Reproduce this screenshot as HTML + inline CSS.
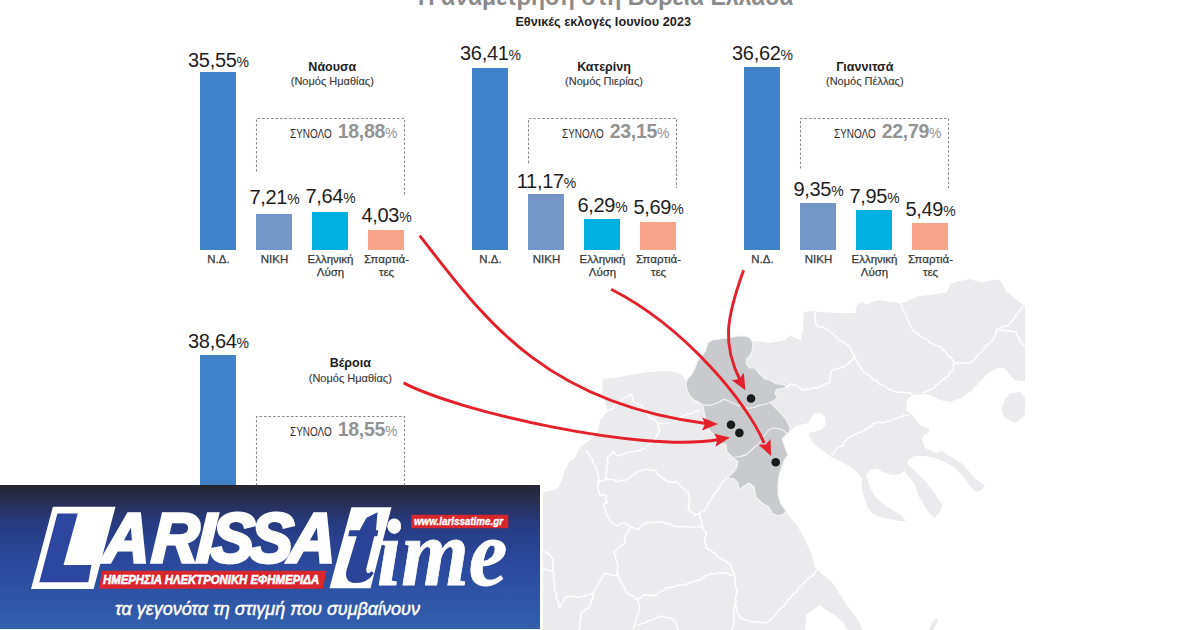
<!DOCTYPE html>
<html><head><meta charset="utf-8"><style>
*{margin:0;padding:0;box-sizing:border-box}
html,body{width:1200px;height:630px;overflow:hidden;background:#fff}
body{position:relative;font-family:"Liberation Sans",sans-serif;color:#222}
.map{position:absolute;left:0;top:0}
.bar{position:absolute;width:36px}
.banner{position:absolute;left:0;top:485px;width:540px;height:143.8px;background:linear-gradient(180deg,#25262f 0%,#282d4c 9%,#283a80 26%,#2b4a9d 55%,#3160ad 100%);overflow:hidden}
</style></head>
<body>
<svg class="map" width="1200" height="630" viewBox="0 0 1200 630"><polygon points="538,500 540,494 545,492 553,490 558,488 562,480 565,470 569,462 575,458 580,447 590,440 598,432 600,420 607,412 606,405 602,395 603,379 620,377 635,374 650,372 665,371 675,372 682,375 686,380 688,378 692,374 695,368 697,362 700,358 705,352 708,343 712,340 720,339 728,338 738,336 745,336 750,338 753,341 755,341 770,343 785,340 790,335 795,338 801,340 803,330 804,312 810,311 820,312 840,313 855,313 857,305 862,302 866,305 872,302 880,300 890,302 900,303 905,302 912,299 918,296.2 930,295 940,293.5 946.7,292.6 948.5,288 950.2,284.3 956.2,281.9 963,280.5 970.5,279 976,281 982.4,281.9 990,280.5 999,279.5 1003,285 1006.2,291.4 1012,296 1018,301 1025,305.7 1025,381 1015,380 1010,375 1005,368 998,368 990,372 983,378 977,385 970,392 960,398 950,402 940,400 930,395 920,394 912,395 907,400 906,410 910,413 915,418 920,425 928,428 930,431 924,435 922,440 925,448 935,453 942,451 948,455 960,462 968,470 975,479 985,485 982,490 975,492 970,486 963,476 955,468 945,462 935,458 925,456 915,456 909,459 907,463 914,470 924,480 934,492 942,505 940,512 935,518 930,514 924,505 918,495 915,485 909,477 905,471 900,474 893,475 885,473 877,469 870,470 866,475 869,485 874,495 882,503 892,510 901,515 906,521 900,521 890,519 880,517 873,514 868,508 865,500 862,490 862,479 856,471 850,466.4 841,461.7 831.4,456.9 824.3,452.1 818.3,447.4 812.4,441.4 808.8,435.5 810,432.5 816,431.3 822.5,429.5 825.5,424.8 824.9,417 820.7,412.9 814.8,413.5 811.2,417.6 808.8,423 802.9,424.2 796.9,425.4 792.1,429.5 787.4,434.3 782,439 785,447 788,455 785,459 782,466 779,476 778,484 778,494 781,504 786,511 790,518 797,525 805,540 812,555 815,567 822,574 832,582 840,595 847,605 853,613 858,620 863,630 848,630 843,622 835,615 826,610 820,605 815,608 806,615 805,630 538,630" fill="#ebebed"/><polygon points="1001,410 1005,400 1010,393 1020,392 1025,398 1025,415 1015,423 1005,418" fill="#ebebed"/><polygon points="929,630 932,623 936,618.5 938.5,619.5 935.5,625.5 933.5,630" fill="#ebebed"/><polygon points="708,343 712,340 720,339 728,338 738,336 745,336 750,338 753,343 752,352 749,357 746,360 747,365 750,368 755,368 758,372 764.5,378.8 769.3,379.8 776,383.6 783.6,384.5 787.4,386.4 782.6,388.3 776.9,389.3 775,393.1 777.9,397.9 774,400.7 770.2,402.6 774,406.4 778.8,411.2 782.6,415 785.5,418.8 788.3,423.6 790.2,428.3 789.3,432.1 785,436 782,439 785,447 788,455 785,459 782,466 779,476 778,484 778,494 781,504 786,511 784,514 778,516 772,513 769,507 762,503 756,497 754,487 749,483 744,486 739,490 738,483 734,479 727,477 732,474 736,469 738,462 733,458 727,452 726,444 722,444 716,437 709,430 705,417 703,406 700,403 694,400 690,396 687,390 686,383 688,378 692,374 695,368 697,362 700,358 705,352" fill="#c9cacd" stroke="#f6f6f7" stroke-width="1.1" stroke-linejoin="round"/><polyline points="586.0,450.0 587.74,452.35 589.48,454.71 590.29,457.62 592.63,459.74 592.95,462.42 594.2,464.72 595.65,466.93 595.99,469.6 597.73,471.85 597.6,474.48 598.67,476.87 599.14,479.37 599.11,482.04 597.51,484.31 597.55,486.76 598.41,489.16 598.81,491.75 599.77,494.68 602.96,495.12 606.16,495.97 605.75,499.13 607.51,502.51 604.59,503.59 603.31,505.87 604.52,508.11 605.56,510.43 606.27,512.86 606.88,515.89 609.12,518.1 609.92,521.11 612.2,522.85 614.79,524.17 617.03,526.07 619.42,524.35 622.09,523.34 625.26,522.61 626.84,524.57 629.06,525.57 631.24,527.17 629.22,529.25 627.73,531.71 626.31,534.06 625.04,536.41 624.69,538.94 624.9,541.58 623.93,543.91 621.97,545.57 619.63,546.73 617.77,548.51 616.21,550.66 613.26,552.22 615.34,554.32 615.63,556.96 615.86,559.62 617.56,561.96 617.22,564.6 618.14,567.14 617.33,569.82 617.38,572.43 617.9,575.05 618.59,577.52 620.52,579.37 621.1,581.89 622.36,584.07 623.51,586.31 624.81,588.47 625.39,590.99 626.65,593.62 629.12,594.16 631.07,595.63 633.65,595.99 635.24,598.08 637.62,599.2 640.08,598.34 642.1,596.77 644.03,594.66 646.77,595.07 649.48,595.77 652.32,594.99 654.97,595.95 656.9,594.06 659.05,592.49 661.2,590.92 664.04,590.35 665.87,587.92 668.41,587.52 670.96,587.16 673.64,587.33 675.85,585.51 678.48,585.5 681.02,585.08 683.66,584.93 686.13,584.16 688.65,583.56 690.91,581.99 693.47,581.54 695.9,580.8 698.76,580.39 701.31,579.33 703.26,576.99 705.78,575.86 708.32,574.78 710.97,573.57 713.5,573.81 716.01,573.81 718.47,573.12 720.95,572.54 723.49,573.04 726.07,572.8 728.3,573.93 730.42,575.35 733,575.5" fill="none" stroke="#fff" stroke-width="1.4" stroke-linejoin="round"/><polyline points="597.0,482.0 599.86,480.59 603.23,480.7 606.11,478.41 608.69,479.82 611.62,479.35 614.32,480.1 617.09,481.79 619.95,480.2 623.03,480.56 625.96,479.95 627.96,478.54 630.0,477.19 631.72,475.4 634.3,474.83 635.78,472.38 638.6,471.6 641.24,470.28 644.12,469.65 647.04,468.86 649.51,470.29 652.38,470.15 655.44,470.56 657.02,472.48 657.94,475.06 660.74,475.76 661.9,478.17 664.43,479.16 666.54,480.89 669.0,481.74 672.0,482.31 675.0,482.0 677.8,482.13 678.8,484.36 680.56,486.07 682.32,487.52 684.39,488.75 685.6,491.26 688.02,492.0 688.98,494.4 688.3,497.14 689.38,499.52 689.65,501.9 688.75,504.17 689.0,506.76 688.15,508.83 689.94,511.46 693.05,512.56 695.16,515.39 699,513.4" fill="none" stroke="#fff" stroke-width="1.4" stroke-linejoin="round"/><polyline points="606.0,479.0 606.14,476.6 606.2,474.18 606.02,471.75 607.38,469.45 606.21,466.92 607.25,464.5 608.13,462.06 607.08,459.43 608.06,457.06 610.63,454.63 613.5,451.46 615.13,453.71 617.08,456.02 619.58,454.99 622.29,454.77 624.67,453.25 627.3,452.73 629.84,451.9 632.4,451.89 634.97,451.92 637.24,450.78 639.71,450.44 641.9,449.24 644.87,448.14 647.01,445.65 649.75,444.38 651.96,442.81 653.77,440.89 655.16,438.59 656.4,436.42 658.16,433.34 659.57,430.46 658.67,427.79 658.46,424.86 656.7,422.78 655.39,420.32 653.38,418.73 650.56,418.16 648.84,416.12 647.24,413.63 644.89,411.7 643.65,408.95 642.33,405.94 639.01,405.43 636.75,403.17 633.46,401.97 632.78,399.01 631.9,396.15 630.24,394.21 627.74,396.07 625.01,397.57 621.95,398.56 620.72,400.99 618.81,402.77 616.5,404.15 614.19,405.53 612.92,407.94 611.03,409.86 607.95,410.13 605,411" fill="none" stroke="#fff" stroke-width="1.4" stroke-linejoin="round"/><polyline points="657.0,422.4 659.97,423.31 662.98,423.89 666.02,423.59 668.92,422.47 672.24,422.84 674.92,421.39 677.45,419.68 679.76,417.51 682.68,416.7 685.21,415.09 687.87,413.62 690.63,413.89 693.05,413.15 694.97,410.91 697.78,411.35 700,410" fill="none" stroke="#fff" stroke-width="1.4" stroke-linejoin="round"/><polyline points="631.0,527.0 633.35,527.59 635.64,528.43 638.44,529.52 640.3,526.96 642.67,525.01 645.02,523.14 647.94,522.17 651.0,522.35 653.98,522.21 656.36,522.67 658.85,521.75 661.23,522.29 663.65,522.15 665.86,523.48 668.25,523.96 670.87,523.63 672.79,525.74 675.13,526.38 677.6,526.57 679.99,527.18 683.52,526.6 687.0,526.52 689.62,527.35 692.25,526.6 694.88,526.8 697.5,526.89 700.1,526.55 702.7,527.3" fill="none" stroke="#fff" stroke-width="1.4" stroke-linejoin="round"/><polyline points="727.0,477.6 725.28,479.58 723.31,481.33 721.55,483.27 720.49,485.69 719.43,487.94 717.67,489.8 716.56,492.03 714.6,493.71 713.09,496.16 711.53,498.57 709.92,500.95 708.4,503.12 707.73,505.8 705.96,507.8 704.78,510.46 701.41,511.15 699.68,513.2 699.51,516.99 701.66,520.14 701.28,522.7 702.39,524.91 702.84,527.23 703.3,529.87 705.6,531.64 706.69,534.45 704.6,537.66 704.49,541.31 706.26,544.07 706.3,547.9 708.2,549.4 710.91,549.94 712.45,551.88 714.6,553.08 716.28,554.86 717.82,556.79 720.08,557.74 721.82,559.77 724.53,560.18 726.61,561.65 728.26,563.83 730.85,564.65 731.68,567.26 732.27,569.95 733.32,572.49 734.32,575.04 735.74,577.59 735.04,580.36 735.06,583.01 735.45,585.62 736.34,588.14 737.23,590.73 736.82,593.33 735.9,595.85 735.53,598.46 736.01,601.19 735.41,603.58 736.01,606.24 736.58,608.91 736.93,611.65 738.2,614.1 739.33,616.02 741.03,618.24 743.55,618.75 745.74,619.95 748.05,620.56 750.45,621.16 752.9,621.37 755.26,622.26 757.82,621.47 760.18,622.45 762.68,622.14 765.03,623.24 766.98,622.68 769.41,620.78 771.66,618.69 774.17,616.84 775.02,614.38 777.09,612.94 778.36,610.83 780.02,609.05 781.83,607.39 783.99,606.03 784.98,603.68 787.22,602.28 787.93,599.55 790.5,598.46 791.51,596.02 792.97,594.0 795.29,592.77 797.15,591.11 797.75,588.3 799.75,586.72 802.29,585.52 803.83,583.21 805.72,581.29 807.47,579.22 809.42,577.55 811.9,575.87 814.11,573.98 815.88,571.74 817,569" fill="none" stroke="#fff" stroke-width="1.4" stroke-linejoin="round"/><polyline points="735.0,603.7 735.13,606.4 734.2,609.0 733.96,611.66 733.44,614.3 734.25,617.06 733.93,619.72 733.81,622.39 733.43,625.09 732.13,627.43 732,630" fill="none" stroke="#fff" stroke-width="1.4" stroke-linejoin="round"/><polyline points="542.0,569.0 544.86,568.88 547.44,570.32 550.21,570.74 552.3,571.07 553.61,573.43 553.89,575.89 553.38,578.43 553.75,580.88 554.56,583.28 554.21,585.8 554.91,588.22 554.57,590.81 556.23,593.02 556.71,595.53 556.31,598.28 557.79,600.53 558.59,602.96 558.39,605.65 559.68,608.11 560.32,605.51 562.17,603.64 563.63,601.53 564.24,598.93 566.0,597.24 568.6,596.4 571.2,596.74 573.8,596.33 576.4,596.53 579.21,597.74 581.46,596.15 584.21,596.36 586.47,594.81 589.05,594.37 591.66,594.07 594.27,592.94 594.56,590.35 596.36,588.53 597.54,586.4 598.01,583.9 599.01,581.67 601.2,580.13 602.15,577.65 603.16,575.2 605.02,573.23 608.01,573.6 610.68,575.23 613.7,575.5 618,575.5" fill="none" stroke="#fff" stroke-width="1.4" stroke-linejoin="round"/><polyline points="594.0,592.8 592.49,595.18 593.15,598.23 591.24,600.49 591.32,603.36 589.46,605.24 588.74,608.1 585.98,608.84 584.4,610.81 582.4,612.35 580.21,614.4 581.08,617.14 580.59,619.7 579.67,622.21 580.01,624.88 579.71,627.47 579,630" fill="none" stroke="#fff" stroke-width="1.4" stroke-linejoin="round"/><polyline points="637.5,599.0 638.45,601.95 639.0,604.99 639.83,608.04 638.9,610.63 638.08,613.25 636.82,615.72 636.55,618.52 635.09,620.95 635.29,624.19 634.07,627.08 633,630" fill="none" stroke="#fff" stroke-width="1.4" stroke-linejoin="round"/><polyline points="637.5,625.0 640.14,624.03 642.92,623.46 645.64,622.69 647.88,620.69 650.91,620.32 653.62,619.15 656.34,618.02 659.06,616.08 661.83,616.22 664.52,617.07 667.21,617.92 670.25,617.5 672.17,619.6 674.52,621.18 675.97,623.37 676.92,626.82 678.7,630" fill="none" stroke="#fff" stroke-width="1.4" stroke-linejoin="round"/><polyline points="542.0,551.7 545.11,551.85 547.79,553.15 549.88,555.18 551.73,557.39 553.02,560.0 553.01,562.75 553.03,565.5 553.07,568.25 553,571" fill="none" stroke="#fff" stroke-width="1.4" stroke-linejoin="round"/><polyline points="815.0,312.0 814.92,314.62 814.95,317.23 815.57,319.8 815.78,322.4 816.07,324.84 818.09,326.73 820.93,326.69 823.42,327.48 825.75,328.65 828.26,329.72 830.02,331.46 831.92,333.06 833.92,334.54 835.52,336.46 837.37,338.11 838.94,340.09 841.46,341.0 843.77,342.22 845.86,343.8 847.76,345.66 850.16,346.92 851.0,349.83 852.23,352.55 854.13,355.03 854.13,357.63 852.79,359.7 850.56,361.27 848.7,363.33 846.25,364.6 844.39,366.66 841.83,367.36 839.11,368.23 836.38,369.05 833.56,369.55 831.43,371.04 830.68,373.74 830.13,376.47 829.77,379.21 830.07,382.16 827.82,383.53 825.12,383.81 823.04,385.58 820.27,385.7 818.15,387.78 815.35,387.57 812.67,388.03 810.11,389.1 807.34,389.03 804.67,389.5 801.89,390.18 800.14,388.07 797.91,386.71 795.74,385.27 792.98,384.74 791.54,383.54 788.64,385.64 786,388" fill="none" stroke="#fff" stroke-width="1.4" stroke-linejoin="round"/><polyline points="854.0,355.0 854.6,357.47 856.07,359.47 857.12,361.7 858.1,363.97 860.17,365.65 860.85,368.15 862.54,370.46 864.58,372.42 866.92,374.08 869.31,375.57 871.28,377.49 872.94,379.84 875.97,380.29 877.97,382.17 879.66,384.63 882.21,385.1 884.55,385.92 886.64,387.24 888.36,389.24 890.96,389.6 893.02,390.89 895.34,391.58 897.67,392.23 900.13,392.11 902.6,391.84 904.86,392.99 907.37,392.52 909.73,392.98 912,394" fill="none" stroke="#fff" stroke-width="1.4" stroke-linejoin="round"/><polyline points="900.0,303.0 901.65,305.09 902.06,307.8 903.31,310.1 904.7,312.32 906.24,314.46 906.56,317.17 907.54,319.78 908.98,322.21 909.99,324.8 911.39,327.25 912.47,329.36 914.32,331.43 916.32,333.31 919.01,334.24 920.52,336.78 923.21,337.62 925.4,338.82 927.75,339.76 929.22,342.3 931.62,343.14 933.68,344.51 936.57,345.82 939.73,346.7 942.19,348.81 944.0,351.0 946.43,352.57 947.49,355.51 950.16,356.87 952.09,358.65 952.94,361.33 955.0,362.4 957.8,363.68 960.6,362.93 963.4,363.08 966.2,362.75 969,363" fill="none" stroke="#fff" stroke-width="1.4" stroke-linejoin="round"/><polyline points="955.0,363.0 953.31,365.41 953.54,368.54 952.54,371.54 949.44,372.44 948.36,375.36 946.43,377.43 943.84,378.82 942.3,380.76 939.88,381.67 938.71,384.04 936.1,384.72 934.9,387.08 932.75,388.31 930.76,389.35 928.23,390.72 925.43,391.37 923,393" fill="none" stroke="#fff" stroke-width="1.4" stroke-linejoin="round"/><polyline points="969.0,363.0 971.44,361.86 973.46,360.22 975.43,358.46 977.04,355.16 980.11,353.4 981.66,351.39 983.53,349.68 984.82,347.42 986.66,345.64 988.76,344.19 990.34,342.18 992.43,340.7 993.56,338.81 994.26,336.46 995.83,334.33 995.98,331.84 996.71,329.52 999.22,328.91 1001.38,327.41 1003.58,326.02 1006.39,326.16 1008.71,324.89 1010.38,322.97 1011.92,320.95 1013.94,319.32 1014.76,316.73 1016.84,315.14 1017.93,312.78 1019.8,310.56 1021.51,308.24 1022.9,305.7" fill="none" stroke="#fff" stroke-width="1.4" stroke-linejoin="round"/><polyline points="996.7,329.5 999.43,330.17 1002.17,330.71 1005.07,330.0 1007.57,331.64 1010.41,330.71 1012.99,331.82 1016.28,331.61 1016.53,334.46 1018.6,336.4 1019.01,339.17 1020.24,341.65 1022.44,344.09 1025,346.2" fill="none" stroke="#fff" stroke-width="1.4" stroke-linejoin="round"/><polyline points="832.0,456.0 833.16,453.25 835.28,450.97 836.17,448.52 838.86,446.57 842.49,446.33 843.52,444.12 844.06,441.59 846.38,440.61 848.46,438.0 851.17,436.4 853.95,434.89 856.31,434.13 858.26,432.45 860.87,432.27 863.29,431.44 865.01,429.68 867.26,428.73 869.11,427.17 871.29,426.1 872.72,423.91 874.98,422.77 877.4,422.75 879.75,421.97 882.26,423.15 884.62,422.42 886.8,421.39 890.04,421.13 892.96,419.87 895.83,418.53 898.48,417.49 901.31,416.94 903.89,415.32 907.02,415.6 910,415" fill="none" stroke="#fff" stroke-width="1.4" stroke-linejoin="round"/><polyline points="692,401 695.8,402.9 701.7,404.6 708.3,405.4 714.2,404.2 720,401.7 724.2,399.2 728.3,400.8 733.3,403.3 739.2,405.8 744,407.5 749.2,408.3 754.2,407.5 758.3,405.5 764.2,404.5 770.2,402.6" fill="none" stroke="#f4f4f6" stroke-width="1.1" stroke-linejoin="round"/><polyline points="729.5,459.7 735.9,457.3 741.4,456.1 746.2,454.9 750.2,451 754.9,447 758.9,443.8 762,439 766,433.5 769.2,429.5 774,428 778.7,428.7 783.5,430.3 786.7,433.5" fill="none" stroke="#f4f4f6" stroke-width="1.1" stroke-linejoin="round"/><circle cx="751" cy="398.5" r="4.3" fill="#1a1a1a"/><circle cx="731" cy="424.7" r="4.3" fill="#1a1a1a"/><circle cx="739.4" cy="432.9" r="4.3" fill="#1a1a1a"/><circle cx="775.7" cy="462.2" r="4.3" fill="#1a1a1a"/><path d="M419.7,235.7 C480.5,313.0 540.0,402.5 706,423.5" fill="none" stroke="#e3202b" stroke-width="2.9" stroke-linecap="butt"/><polygon points="718,424 702.3,417.5 705.0,424.0 702,430.5" fill="#e3202b"/><path d="M611.1,289.3 C686.0,327.3 748.4,404.8 764,443" fill="none" stroke="#e3202b" stroke-width="2.9" stroke-linecap="butt"/><polygon points="771,456 758.6,444.8 765.7,444.4 770.5,439" fill="#e3202b"/><path d="M743.6,270.2 C725.9,319.0 722.3,344.4 740,380" fill="none" stroke="#e3202b" stroke-width="2.9" stroke-linecap="butt"/><polygon points="745.4,390.2 731.9,380.2 739.2,378.9 743.8,372.7" fill="#e3202b"/><path d="M403.6,382.9 C456.5,411.0 640.9,453.4 719,439.5" fill="none" stroke="#e3202b" stroke-width="2.9" stroke-linecap="butt"/><polygon points="730,437.5 714.2,433.8 717.5,439.8 715.4,446.7" fill="#e3202b"/></svg>
<div style="position:absolute;left:418.00px;top:-14.17px;width:420px;text-align:left;white-space:nowrap;font-family:'Liberation Sans',sans-serif;font-size:23px;line-height:23px;font-weight:bold;color:#8b8b8b;">Η αναμέτρηση στη Βόρεια Ελλάδα</div><div style="position:absolute;left:515.40px;top:15.55px;width:200px;text-align:left;white-space:nowrap;font-family:'Liberation Sans',sans-serif;font-size:12.7px;line-height:12.7px;font-weight:bold;color:#1e1e1e;">Εθνικές εκλογές Ιουνίου 2023</div>
<div class="bar" style="left:200px;top:72.25px;height:177.75px;background:#3f82c8"></div><div style="position:absolute;left:173.50px;top:49.77px;width:90px;text-align:center;white-space:nowrap;font-family:'Liberation Sans',sans-serif;font-size:20px;line-height:20px;color:#1e1e1e;letter-spacing:-0.3px;">35,55<span style="font-size:14px;letter-spacing:0">%</span></div><div style="position:absolute;left:183.50px;top:254.47px;width:70px;text-align:center;white-space:nowrap;font-family:'Liberation Sans',sans-serif;font-size:11.5px;line-height:11.5px;color:#3a3a3a;-webkit-text-stroke:0.25px #3a3a3a;">Ν.Δ.</div><div class="bar" style="left:256px;top:213.95px;height:36.05px;background:#7396c6"></div><div style="position:absolute;left:229.50px;top:187.07px;width:90px;text-align:center;white-space:nowrap;font-family:'Liberation Sans',sans-serif;font-size:20px;line-height:20px;color:#1e1e1e;letter-spacing:-0.3px;">7,21<span style="font-size:14px;letter-spacing:0">%</span></div><div style="position:absolute;left:239.50px;top:254.47px;width:70px;text-align:center;white-space:nowrap;font-family:'Liberation Sans',sans-serif;font-size:11.5px;line-height:11.5px;color:#3a3a3a;-webkit-text-stroke:0.25px #3a3a3a;">ΝΙΚΗ</div><div class="bar" style="left:312px;top:211.80px;height:38.20px;background:#00b0e0"></div><div style="position:absolute;left:285.50px;top:186.37px;width:90px;text-align:center;white-space:nowrap;font-family:'Liberation Sans',sans-serif;font-size:20px;line-height:20px;color:#1e1e1e;letter-spacing:-0.3px;">7,64<span style="font-size:14px;letter-spacing:0">%</span></div><div style="position:absolute;left:295.50px;top:254.47px;width:70px;text-align:center;white-space:nowrap;font-family:'Liberation Sans',sans-serif;font-size:11.5px;line-height:11.5px;color:#3a3a3a;-webkit-text-stroke:0.25px #3a3a3a;">Ελληνική</div><div style="position:absolute;left:295.50px;top:267.27px;width:70px;text-align:center;white-space:nowrap;font-family:'Liberation Sans',sans-serif;font-size:11.5px;line-height:11.5px;color:#3a3a3a;-webkit-text-stroke:0.25px #3a3a3a;">Λύση</div><div class="bar" style="left:368px;top:229.85px;height:20.15px;background:#f7a48a"></div><div style="position:absolute;left:341.50px;top:204.87px;width:90px;text-align:center;white-space:nowrap;font-family:'Liberation Sans',sans-serif;font-size:20px;line-height:20px;color:#1e1e1e;letter-spacing:-0.3px;">4,03<span style="font-size:14px;letter-spacing:0">%</span></div><div style="position:absolute;left:351.50px;top:254.47px;width:70px;text-align:center;white-space:nowrap;font-family:'Liberation Sans',sans-serif;font-size:11.5px;line-height:11.5px;color:#3a3a3a;-webkit-text-stroke:0.25px #3a3a3a;">Σπαρτιά-</div><div style="position:absolute;left:351.50px;top:267.27px;width:70px;text-align:center;white-space:nowrap;font-family:'Liberation Sans',sans-serif;font-size:11.5px;line-height:11.5px;color:#3a3a3a;-webkit-text-stroke:0.25px #3a3a3a;">τες</div><div style="position:absolute;left:262.30px;top:61.42px;width:140px;text-align:center;white-space:nowrap;font-family:'Liberation Sans',sans-serif;font-size:12.5px;line-height:12.5px;font-weight:bold;color:#1e1e1e;">Νάουσα</div><div style="position:absolute;left:262.30px;top:76.19px;width:140px;text-align:center;white-space:nowrap;font-family:'Liberation Sans',sans-serif;font-size:11px;line-height:11px;color:#3a3a3a;-webkit-text-stroke:0.15px #3a3a3a;">(Νομός Ημαθίας)</div><svg style="position:absolute;left:255px;top:117px;overflow:visible" width="152" height="79"><path d="M1.5,54.5 V1.5 H149.5 V77.4" fill="none" stroke="#8c8c8c" stroke-width="1.1" stroke-dasharray="2.6 1.9"/></svg><div style="position:absolute;left:290.00px;top:128.34px;width:60px;text-align:left;white-space:nowrap;font-family:'Liberation Sans',sans-serif;font-size:12px;line-height:12px;transform:scaleX(0.83);transform-origin:0 0;color:#2e2e2e;">ΣΥΝΟΛΟ</div><div style="position:absolute;left:307.50px;top:121.99px;width:90px;text-align:right;white-space:nowrap;font-family:'Liberation Sans',sans-serif;font-size:19.5px;line-height:19.5px;font-weight:bold;color:#939393;letter-spacing:-0.3px;">18,88<span style="font-size:14px;font-weight:normal;letter-spacing:0">%</span></div><div class="bar" style="left:472px;top:67.95px;height:182.05px;background:#3f82c8"></div><div style="position:absolute;left:445.50px;top:43.07px;width:90px;text-align:center;white-space:nowrap;font-family:'Liberation Sans',sans-serif;font-size:20px;line-height:20px;color:#1e1e1e;letter-spacing:-0.3px;">36,41<span style="font-size:14px;letter-spacing:0">%</span></div><div style="position:absolute;left:455.50px;top:254.47px;width:70px;text-align:center;white-space:nowrap;font-family:'Liberation Sans',sans-serif;font-size:11.5px;line-height:11.5px;color:#3a3a3a;-webkit-text-stroke:0.25px #3a3a3a;">Ν.Δ.</div><div class="bar" style="left:528px;top:194.15px;height:55.85px;background:#7396c6"></div><div style="position:absolute;left:501.50px;top:171.27px;width:90px;text-align:center;white-space:nowrap;font-family:'Liberation Sans',sans-serif;font-size:20px;line-height:20px;color:#1e1e1e;letter-spacing:-0.3px;">11,17<span style="font-size:14px;letter-spacing:0">%</span></div><div style="position:absolute;left:511.50px;top:254.47px;width:70px;text-align:center;white-space:nowrap;font-family:'Liberation Sans',sans-serif;font-size:11.5px;line-height:11.5px;color:#3a3a3a;-webkit-text-stroke:0.25px #3a3a3a;">ΝΙΚΗ</div><div class="bar" style="left:584px;top:218.55px;height:31.45px;background:#00b0e0"></div><div style="position:absolute;left:557.50px;top:195.27px;width:90px;text-align:center;white-space:nowrap;font-family:'Liberation Sans',sans-serif;font-size:20px;line-height:20px;color:#1e1e1e;letter-spacing:-0.3px;">6,29<span style="font-size:14px;letter-spacing:0">%</span></div><div style="position:absolute;left:567.50px;top:254.47px;width:70px;text-align:center;white-space:nowrap;font-family:'Liberation Sans',sans-serif;font-size:11.5px;line-height:11.5px;color:#3a3a3a;-webkit-text-stroke:0.25px #3a3a3a;">Ελληνική</div><div style="position:absolute;left:567.50px;top:267.27px;width:70px;text-align:center;white-space:nowrap;font-family:'Liberation Sans',sans-serif;font-size:11.5px;line-height:11.5px;color:#3a3a3a;-webkit-text-stroke:0.25px #3a3a3a;">Λύση</div><div class="bar" style="left:640px;top:221.55px;height:28.45px;background:#f7a48a"></div><div style="position:absolute;left:613.50px;top:197.07px;width:90px;text-align:center;white-space:nowrap;font-family:'Liberation Sans',sans-serif;font-size:20px;line-height:20px;color:#1e1e1e;letter-spacing:-0.3px;">5,69<span style="font-size:14px;letter-spacing:0">%</span></div><div style="position:absolute;left:623.50px;top:254.47px;width:70px;text-align:center;white-space:nowrap;font-family:'Liberation Sans',sans-serif;font-size:11.5px;line-height:11.5px;color:#3a3a3a;-webkit-text-stroke:0.25px #3a3a3a;">Σπαρτιά-</div><div style="position:absolute;left:623.50px;top:267.27px;width:70px;text-align:center;white-space:nowrap;font-family:'Liberation Sans',sans-serif;font-size:11.5px;line-height:11.5px;color:#3a3a3a;-webkit-text-stroke:0.25px #3a3a3a;">τες</div><div style="position:absolute;left:534.00px;top:61.42px;width:140px;text-align:center;white-space:nowrap;font-family:'Liberation Sans',sans-serif;font-size:12.5px;line-height:12.5px;font-weight:bold;color:#1e1e1e;">Κατερίνη</div><div style="position:absolute;left:534.00px;top:76.19px;width:140px;text-align:center;white-space:nowrap;font-family:'Liberation Sans',sans-serif;font-size:11px;line-height:11px;color:#3a3a3a;-webkit-text-stroke:0.15px #3a3a3a;">(Νομός Πιερίας)</div><svg style="position:absolute;left:527px;top:117px;overflow:visible" width="152" height="73"><path d="M1.5,46.2 V1.5 H149.5 V71.0" fill="none" stroke="#8c8c8c" stroke-width="1.1" stroke-dasharray="2.6 1.9"/></svg><div style="position:absolute;left:562.00px;top:128.34px;width:60px;text-align:left;white-space:nowrap;font-family:'Liberation Sans',sans-serif;font-size:12px;line-height:12px;transform:scaleX(0.83);transform-origin:0 0;color:#2e2e2e;">ΣΥΝΟΛΟ</div><div style="position:absolute;left:579.50px;top:121.99px;width:90px;text-align:right;white-space:nowrap;font-family:'Liberation Sans',sans-serif;font-size:19.5px;line-height:19.5px;font-weight:bold;color:#939393;letter-spacing:-0.3px;">23,15<span style="font-size:14px;font-weight:normal;letter-spacing:0">%</span></div><div class="bar" style="left:744px;top:66.90px;height:183.10px;background:#3f82c8"></div><div style="position:absolute;left:717.50px;top:43.07px;width:90px;text-align:center;white-space:nowrap;font-family:'Liberation Sans',sans-serif;font-size:20px;line-height:20px;color:#1e1e1e;letter-spacing:-0.3px;">36,62<span style="font-size:14px;letter-spacing:0">%</span></div><div style="position:absolute;left:727.50px;top:254.47px;width:70px;text-align:center;white-space:nowrap;font-family:'Liberation Sans',sans-serif;font-size:11.5px;line-height:11.5px;color:#3a3a3a;-webkit-text-stroke:0.25px #3a3a3a;">Ν.Δ.</div><div class="bar" style="left:800px;top:203.25px;height:46.75px;background:#7396c6"></div><div style="position:absolute;left:773.50px;top:178.97px;width:90px;text-align:center;white-space:nowrap;font-family:'Liberation Sans',sans-serif;font-size:20px;line-height:20px;color:#1e1e1e;letter-spacing:-0.3px;">9,35<span style="font-size:14px;letter-spacing:0">%</span></div><div style="position:absolute;left:783.50px;top:254.47px;width:70px;text-align:center;white-space:nowrap;font-family:'Liberation Sans',sans-serif;font-size:11.5px;line-height:11.5px;color:#3a3a3a;-webkit-text-stroke:0.25px #3a3a3a;">ΝΙΚΗ</div><div class="bar" style="left:856px;top:210.25px;height:39.75px;background:#00b0e0"></div><div style="position:absolute;left:829.50px;top:185.67px;width:90px;text-align:center;white-space:nowrap;font-family:'Liberation Sans',sans-serif;font-size:20px;line-height:20px;color:#1e1e1e;letter-spacing:-0.3px;">7,95<span style="font-size:14px;letter-spacing:0">%</span></div><div style="position:absolute;left:839.50px;top:254.47px;width:70px;text-align:center;white-space:nowrap;font-family:'Liberation Sans',sans-serif;font-size:11.5px;line-height:11.5px;color:#3a3a3a;-webkit-text-stroke:0.25px #3a3a3a;">Ελληνική</div><div style="position:absolute;left:839.50px;top:267.27px;width:70px;text-align:center;white-space:nowrap;font-family:'Liberation Sans',sans-serif;font-size:11.5px;line-height:11.5px;color:#3a3a3a;-webkit-text-stroke:0.25px #3a3a3a;">Λύση</div><div class="bar" style="left:912px;top:222.55px;height:27.45px;background:#f7a48a"></div><div style="position:absolute;left:885.50px;top:198.67px;width:90px;text-align:center;white-space:nowrap;font-family:'Liberation Sans',sans-serif;font-size:20px;line-height:20px;color:#1e1e1e;letter-spacing:-0.3px;">5,49<span style="font-size:14px;letter-spacing:0">%</span></div><div style="position:absolute;left:895.50px;top:254.47px;width:70px;text-align:center;white-space:nowrap;font-family:'Liberation Sans',sans-serif;font-size:11.5px;line-height:11.5px;color:#3a3a3a;-webkit-text-stroke:0.25px #3a3a3a;">Σπαρτιά-</div><div style="position:absolute;left:895.50px;top:267.27px;width:70px;text-align:center;white-space:nowrap;font-family:'Liberation Sans',sans-serif;font-size:11.5px;line-height:11.5px;color:#3a3a3a;-webkit-text-stroke:0.25px #3a3a3a;">τες</div><div style="position:absolute;left:794.80px;top:61.42px;width:140px;text-align:center;white-space:nowrap;font-family:'Liberation Sans',sans-serif;font-size:12.5px;line-height:12.5px;font-weight:bold;color:#1e1e1e;">Γιαννιτσά</div><div style="position:absolute;left:794.80px;top:76.19px;width:140px;text-align:center;white-space:nowrap;font-family:'Liberation Sans',sans-serif;font-size:11px;line-height:11px;color:#3a3a3a;-webkit-text-stroke:0.15px #3a3a3a;">(Νομός Πέλλας)</div><svg style="position:absolute;left:799px;top:117px;overflow:visible" width="152" height="73"><path d="M1.5,51.5 V1.5 H149.5 V71.0" fill="none" stroke="#8c8c8c" stroke-width="1.1" stroke-dasharray="2.6 1.9"/></svg><div style="position:absolute;left:834.00px;top:128.34px;width:60px;text-align:left;white-space:nowrap;font-family:'Liberation Sans',sans-serif;font-size:12px;line-height:12px;transform:scaleX(0.83);transform-origin:0 0;color:#2e2e2e;">ΣΥΝΟΛΟ</div><div style="position:absolute;left:851.50px;top:121.99px;width:90px;text-align:right;white-space:nowrap;font-family:'Liberation Sans',sans-serif;font-size:19.5px;line-height:19.5px;font-weight:bold;color:#939393;letter-spacing:-0.3px;">22,79<span style="font-size:14px;font-weight:normal;letter-spacing:0">%</span></div><div class="bar" style="left:200px;top:354.80px;height:193.20px;background:#3f82c8"></div><div style="position:absolute;left:173.50px;top:331.07px;width:90px;text-align:center;white-space:nowrap;font-family:'Liberation Sans',sans-serif;font-size:20px;line-height:20px;color:#1e1e1e;letter-spacing:-0.3px;">38,64<span style="font-size:14px;letter-spacing:0">%</span></div><div style="position:absolute;left:280.30px;top:356.92px;width:140px;text-align:center;white-space:nowrap;font-family:'Liberation Sans',sans-serif;font-size:12.5px;line-height:12.5px;font-weight:bold;color:#1e1e1e;">Βέροια</div><div style="position:absolute;left:280.30px;top:373.19px;width:140px;text-align:center;white-space:nowrap;font-family:'Liberation Sans',sans-serif;font-size:11px;line-height:11px;color:#3a3a3a;-webkit-text-stroke:0.15px #3a3a3a;">(Νομός Ημαθίας)</div><svg style="position:absolute;left:255px;top:415px;overflow:visible" width="152" height="77"><path d="M1.5,75.0 V1.5 H149.5 V75.0" fill="none" stroke="#8c8c8c" stroke-width="1.1" stroke-dasharray="2.6 1.9"/></svg><div style="position:absolute;left:290.00px;top:426.34px;width:60px;text-align:left;white-space:nowrap;font-family:'Liberation Sans',sans-serif;font-size:12px;line-height:12px;transform:scaleX(0.83);transform-origin:0 0;color:#2e2e2e;">ΣΥΝΟΛΟ</div><div style="position:absolute;left:307.50px;top:419.99px;width:90px;text-align:right;white-space:nowrap;font-family:'Liberation Sans',sans-serif;font-size:19.5px;line-height:19.5px;font-weight:bold;color:#939393;letter-spacing:-0.3px;">18,55<span style="font-size:14px;font-weight:normal;letter-spacing:0">%</span></div>
<div class="banner"><svg width="540" height="143" viewBox="0 485 540 143" style="position:absolute;left:0;top:0">
  <polygon points="52.9,506.8 115.5,506.8 93.6,589 31,589" fill="#fff"/>
  <polygon points="57.4,513.6 77.8,513.6 63.5,565 91.4,565 88.3,582.2 39.3,582.2" fill="#2d47a0"/>
  <polygon points="101.9,570.8 326.5,570.8 323,588.8 98.9,588.8" fill="#d8262c"/>
  <polygon points="351.4,507.2 391.5,507.2 370.5,588.2 329.5,588.2" fill="#fff"/>
  <path d="M377.5,512.3 L376,530.2 L378.3,530.2 L377.3,536.2 L374.3,536.2 L366.2,569 Q366.3,576 371.5,571.2 L373.8,573.2 Q367.5,583.2 355,583 Q344.5,582.5 346.3,571 L356.8,536.2 L348.2,536.2 L349.4,530.2 L359.6,530.2 L366.5,517.8 Z" fill="#2b4396"/>
  <polygon points="411.3,514.7 508.3,514.7 508.3,528.3 411.3,528.3" fill="#d8262c"/>
 </svg><div style="position:absolute;left:102px;top:17.74px;width:300px;white-space:nowrap;font-family:'Liberation Sans',sans-serif;font-size:70px;line-height:70px;font-style:italic;font-weight:bold;color:#fff;-webkit-text-stroke:3.4px #fff;letter-spacing:-1.2px;transform-origin:0 59.26px;transform:scaleX(0.93) skewX(-3.5deg)"><span style="margin-right:3px">A</span><span style="margin-right:-1px">R</span><span style="margin-right:-3px">I</span><span style="margin-right:-4px">S</span><span style="margin-right:-3px">S</span>A</div><div style="position:absolute;left:103.00px;top:89.48px;width:260px;text-align:left;white-space:nowrap;font-family:'Liberation Sans',sans-serif;font-size:12.9px;line-height:12.9px;transform:scaleX(0.88);transform-origin:0 0;font-style:italic;font-weight:bold;color:#fff;-webkit-text-stroke:0.6px #fff;">ΗΜΕΡΗΣΙΑ ΗΛΕΚΤΡΟΝΙΚΗ ΕΦΗΜΕΡΙΔΑ</div><div style="position:absolute;left:377.00px;top:20.94px;width:160px;text-align:left;white-space:nowrap;font-family:'Liberation Serif',serif;font-size:95px;line-height:95px;transform:scaleX(0.915);transform-origin:0 0;font-style:italic;font-weight:bold;color:#fff;-webkit-text-stroke:0.8px #fff;">ime</div><div style="position:absolute;left:414.00px;top:32.33px;width:100px;text-align:left;white-space:nowrap;font-family:'Liberation Sans',sans-serif;font-size:10px;line-height:10px;transform:scaleX(0.98);transform-origin:0 0;font-style:italic;font-weight:bold;color:#fff;-webkit-text-stroke:0.35px #fff;">www.larissatime.gr</div><div style="position:absolute;left:115.00px;top:114.76px;width:340px;text-align:left;white-space:nowrap;font-family:'Liberation Sans',sans-serif;font-size:18px;line-height:18px;font-style:italic;color:#fff;-webkit-text-stroke:0.45px #fff;">τα γεγονότα τη στιγμή που συμβαίνουν</div></div><div style="position:absolute;left:540px;top:485px;width:3px;height:145px;background:#fff"></div>
</body></html>
